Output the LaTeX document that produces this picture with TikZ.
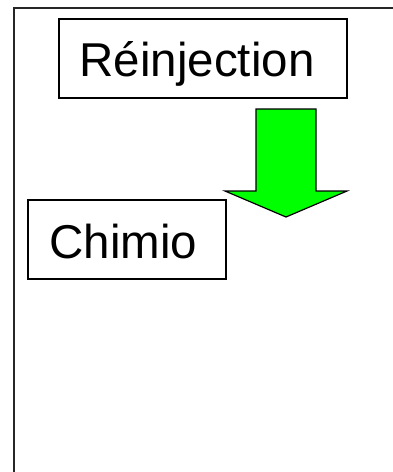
\documentclass[tikz,border=0pt]{standalone}
\usepackage{fontspec}
\setmainfont{Liberation Sans}
\begin{document}
\begin{tikzpicture}[x=1pt,y=-1pt,
  box/.style={draw=black,line width=1.2pt,fill=white},
  label/.style={font=\fontsize{47.5}{50}\selectfont,anchor=base,inner sep=0pt},
  bigarrow/.style={draw=black,line width=1.2pt,fill=green,line join=miter}]
  \useasboundingbox (0,0) rectangle (392,472);
  % outer frame, running off the right and bottom edges
  \draw[line width=1.8pt,draw=black!85] (400,8) -- (14,8) -- (14,480);
  % boxes
  \draw[box] (59,19) rectangle (347,98);
  \node[label] (reinj) at (197,76) {Réinjection};
  \draw[box] (28,200) rectangle (226,279);
  \node[label] (chimio) at (123.5,258) {Chimio};
  % green block arrow
  \draw[bigarrow] (256,109) -- (316,109) -- (316,191) -- (347,191)
    -- (286,217) -- (225,191) -- (256,191) -- cycle;
\end{tikzpicture}
\end{document}
